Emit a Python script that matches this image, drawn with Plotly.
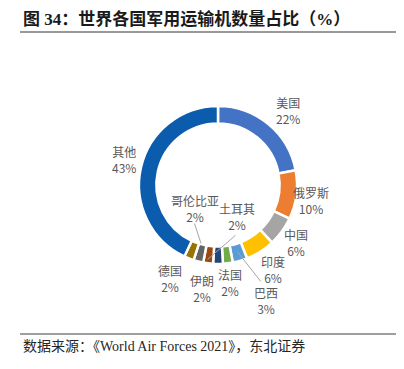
import math
import plotly.graph_objects as go

# ---- data ----
countries = ["美国", "俄罗斯", "中国", "印度", "巴西", "法国", "土耳其", "伊朗", "哥伦比亚", "德国", "其他"]
shares = [22, 10, 6, 6, 3, 2, 2, 2, 2, 2, 43]
colors = ["#4472C4", "#ED7D31", "#A5A5A5", "#FFC000", "#5B9BD5", "#70AD47",
          "#264478", "#9E480E", "#636363", "#997300", "#0B5CAD"]
title_text = "图 34：世界各国军用运输机数量占比（%）"
source_text = "数据来源：《World Air Forces 2021》，东北证券"

# page has an 8px body margin; figure occupies window pixels 8..404
OFF = 8
W, H = 404 - OFF, 369 - OFF
CX, CY, R = 218, 185, 79   # in window pixels
HOLE = 0.78


def px(x):
    return (x - OFF) / W


def py(y):
    return 1 - (y - OFF) / H


fig = go.Figure(go.Pie(
    labels=countries, values=shares, sort=False, direction="clockwise", rotation=0,
    hole=HOLE, textinfo="none", hoverinfo="label+percent",
    marker=dict(colors=colors, line=dict(color="white", width=2.5)),
    domain=dict(x=[px(CX - R), px(CX + R)], y=[py(CY + R), py(CY - R)]),
    showlegend=False,
))

total = sum(shares)
cum = []
acc = 0
for v in shares:
    cum.append((acc, acc + v))
    acc += v


def slice_point(i, frac_r, t=0.5):
    a0, a1 = cum[i]
    ang = 2 * math.pi * (a0 + (a1 - a0) * t) / total
    return CX + frac_r * R * math.sin(ang), CY - frac_r * R * math.cos(ang)


# label text centers (window pixel positions of label layout)
label_pos = {
    "美国": (288, 111), "俄罗斯": (311, 200), "中国": (296, 242), "印度": (273, 269),
    "巴西": (266, 300), "法国": (230, 282), "土耳其": (237, 216), "伊朗": (202, 288),
    "哥伦比亚": (195, 208), "德国": (170, 278), "其他": (124, 159),
}
lab_font = dict(family="Noto Sans CJK SC", size=12, color="#595959")
anns = []
for name, v in zip(countries, shares):
    x, y = label_pos[name]
    anns.append(dict(x=px(x), y=py(y), xref="paper", yref="paper",
                     text=f"{name}<br>{v}%", showarrow=False, font=lab_font,
                     xanchor="center", yanchor="middle", align="center"))

# leader lines: (slice index, radius fraction, angle fraction, label-end pixel)
leaders = [
    (countries.index("哥伦比亚"), 0.77, 0.75, (194, 222)),
    (countries.index("土耳其"), 0.95, 1.6, (237, 234)),
    (countries.index("巴西"), 0.88, 0.5, (262, 283)),
]
for i, fr, t, (lx, ly) in leaders:
    sx, sy = slice_point(i, fr, t)
    anns.append(dict(x=px(sx), y=py(sy), xref="paper", yref="paper",
                     ax=lx - sx, ay=ly - sy, axref="pixel", ayref="pixel",
                     showarrow=True, arrowhead=0, arrowwidth=1, arrowcolor="#A6A6A6",
                     text=""))

anns.append(dict(x=px(21), y=py(19), xref="paper", yref="paper", xanchor="left", yanchor="middle",
                 text="<b>" + title_text + "</b>", showarrow=False,
                 font=dict(family="Liberation Serif, Noto Sans CJK SC", size=17, color="#1a1a1a")))
anns.append(dict(x=px(21), y=py(346), xref="paper", yref="paper", xanchor="left", yanchor="middle",
                 text=source_text, showarrow=False,
                 font=dict(family="Liberation Serif, Noto Sans CJK SC", size=14, color="#262626")))

shapes = [
    dict(type="line", xref="paper", yref="paper", x0=px(20), x1=1, y0=py(32), y1=py(32),
         line=dict(color="#333333", width=1)),
    dict(type="line", xref="paper", yref="paper", x0=px(20), x1=1, y0=py(334), y1=py(334),
         line=dict(color="#7F7F7F", width=1.5)),
]

fig.update_layout(width=W, height=H, margin=dict(l=0, r=0, t=0, b=0),
                  paper_bgcolor="white", plot_bgcolor="white",
                  annotations=anns, shapes=shapes)
fig.write_html("out.html")
